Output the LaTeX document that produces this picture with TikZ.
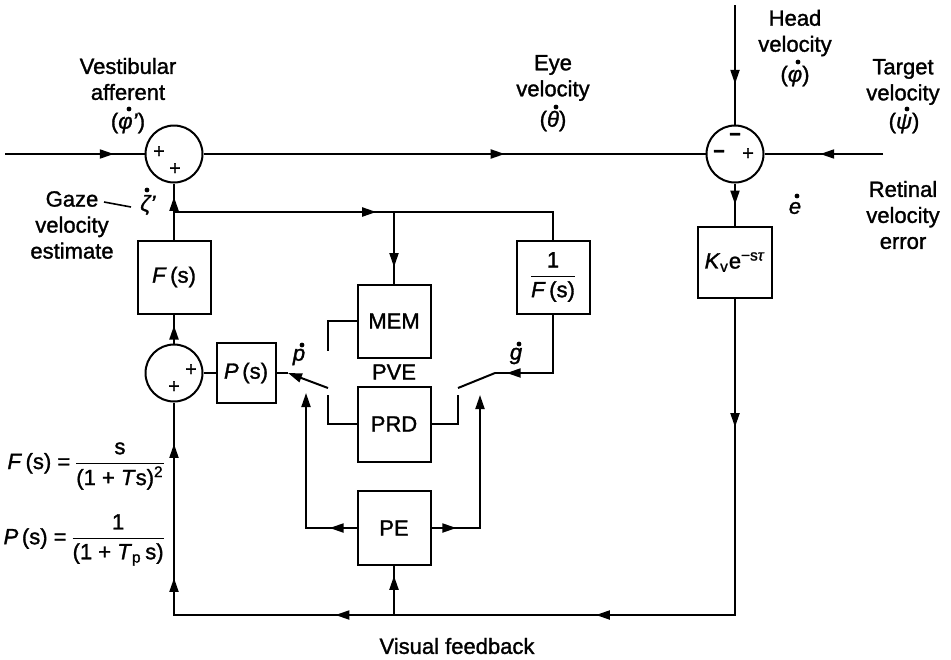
\documentclass[tikz,border=0pt]{standalone}
\usepackage{fontspec}
\setmainfont{Liberation Sans}[FakeBold=1.4]
\usetikzlibrary{arrows.meta,decorations.markings}
\newcommand\fr[2]{$\nulldelimiterspace=0pt\displaystyle\frac{\mbox{#1}}{\mbox{#2}}$}
\tikzset{
  ln/.style={line width=1pt},
  blk/.style={draw, line width=1pt, minimum width=36.5pt, minimum height=36.5pt, inner sep=0pt, font=\fontsize{11}{13}\selectfont},
  sumc/.style={draw, circle, line width=1pt, minimum size=28.5pt, inner sep=0pt},
  lbl/.style={align=center, inner sep=0pt, font=\fontsize{11}{13}\selectfont},
  sgn/.style={inner sep=0pt, font=\fontsize{10}{12}\selectfont},
  arr/.style={postaction={decorate,decoration={markings,mark=at position #1 with {\arrow{Triangle[length=7pt,width=4.5pt]}}}}},
  tip/.style={-{Triangle[length=7pt,width=4.5pt]}},
  dotacc/.style={fill=black}
}
\begin{document}
\begin{tikzpicture}[x=0.5pt,y=-0.5pt]
\useasboundingbox (0,0) rectangle (951,659);
% summing junctions
\node[sumc] (sumL) at (174,154) {};
\node[sumc] (sumR) at (735,154) {};
\node[sumc] (sumB) at (174,373) {};
\node[sgn] at (159,152) {+};
\node[sgn] at (175,169) {+};
\node[sgn] at (191,370) {+};
\node[sgn] at (174,387) {+};
\node[sgn] at (735,137) {\textbf{−}};
\node[sgn] at (719,154) {\textbf{−}};
\node[sgn] at (748,154) {+};
% blocks
\node[blk] (F) at (174,277) {\textit{F}\,(s)};
\node[blk] (invF) at (553,277) {\fr{1}{\textit{F}\,(s)}};
\node[blk, minimum width=37pt, minimum height=35.5pt] (Kv) at (735,262) {\textit{K}\textsubscript{v}e\textsuperscript{−s\textit{τ}}};
\node[blk] (MEM) at (394,321) {MEM};
\node[blk, minimum height=37.5pt] (PRD) at (394,424) {PRD};
\node[blk, minimum height=37pt] (PE) at (394,528) {PE};
\node[blk, minimum width=29.5pt, minimum height=30pt] (P) at (246,373) {\textit{P}\,(s)};
% coordinates
\coordinate (inL) at (5,154);
\coordinate (head) at (735,5);
\coordinate (tgt) at (883,154);
\coordinate (cBR) at (735,615);
\coordinate (cBL) at (174,615);
\coordinate (fbPE) at (394,615);
\coordinate (br0) at (174,212);
\coordinate (br1) at (553,212);
\coordinate (brM) at (394,212);
\coordinate (gR1) at (553,373);
\coordinate (swR1) at (495,373);
\coordinate (swR2) at (458,388);
\coordinate (cR) at (458,424);
\coordinate (cRt) at (458,395);
\coordinate (swL1) at (328,388);
\coordinate (swL2) at (288,373);
\coordinate (cL) at (328,424);
\coordinate (cLt) at (328,395);
\coordinate (mL) at (328,321);
\coordinate (mLb) at (328,351);
\coordinate (peL) at (306,528);
\coordinate (peLt) at (306,393);
\coordinate (peR) at (480,528);
\coordinate (peRt) at (480,395);
\coordinate (gz0) at (104,202);
\coordinate (gz1) at (131,207);
% connectors
\draw[ln, arr=0.78] (inL) -- (sumL);
\draw[ln, arr=0.6] (sumL) -- (sumR);
\draw[ln, arr=0.66] (head) -- (sumR);
\draw[ln, arr=0.53] (tgt) -- (sumR);
\draw[ln, arr=0.5] (sumR) -- (Kv);
\draw[ln, arr=0.118, arr=0.418, arr=0.657, arr=0.839, arr=0.962] (Kv.south) -- (cBR) -- (cBL) -- (sumB.south);
\draw[ln, arr=0.8] (fbPE) -- (PE.south);
\draw[ln, arr=0.62] (sumB) -- (F);
\draw[ln, arr=0.76] (F) -- (sumL);
\draw[ln, arr=0.4975] (br0) -- (br1) -- (invF.north);
\draw[ln, arr=0.77] (brM) -- (MEM.north);
\draw[ln, arr=0.9] (invF.south) -- (gR1) -- (swR1);
\draw[ln] (swR1) -- (swR2);
\draw[ln] (PRD.east) -- (cR) -- (cRt);
\draw[ln] (PRD.west) -- (cL) -- (cLt);
\draw[ln] (MEM.west |- mL) -- (mL) -- (mLb);
\draw[ln, tip] (swL1) -- (swL2);
\draw[ln] (swL2) -- (P.east);
\draw[ln] (P.west) -- (sumB.east);
\draw[ln, tip, arr=0.145] (PE.west) -- (peL) -- (peLt);
\draw[ln, tip, arr=0.137] (PE.east) -- (peR) -- (peRt);
\draw[line width=0.8pt] (gz0) -- (gz1);
% labels
\node[lbl] (vest) at (128,79) {Vestibular\\afferent};
\node[lbl] (vestS) at (128,123) {(\textit{φ'})};
\node[lbl] (eye) at (553,78) {Eye\\velocity};
\node[lbl] (eyeS) at (553,121) {(\textit{θ})};
\node[lbl] (headl) at (795,33) {Head\\velocity};
\node[lbl] (headS) at (795,76) {(\textit{φ})};
\node[lbl] (tgtl) at (903,82) {Target\\velocity};
\node[lbl] (tgtS) at (904,123) {(\textit{ψ})};
\node[lbl] (ret) at (903,215) {Retinal\\velocity\\error};
\node[lbl] (edot) at (795,208) {\textit{e}};
\node[lbl] (gaze) at (72,225) {Gaze\\velocity\\estimate};
\node[lbl] (zeta) at (148,205) {\textit{ζ'}};
\node[lbl] (pdot) at (299,357) {\textit{p}};
\node[lbl] (gdot) at (516,356) {\textit{g}};
\node[lbl] (pve) at (394,372) {PVE};
\node[lbl, anchor=east] (fF) at (164,466) {\textit{F}\,(s) = \fr{s}{(1 + \textit{T}s)\textsuperscript{2}}};
\node[lbl, anchor=east] (fP) at (164,540) {\textit{P}\,(s) = \fr{1}{(1 + \textit{T}\textsubscript{p}\,s)}};
\node[lbl] (vis) at (457,646) {Visual feedback};
% dot accents
\fill[dotacc] ([shift={(1,-14)}]vestS.center) circle[radius=1.2pt];
\fill[dotacc] ([shift={(3,-14)}]eyeS.center) circle[radius=1.2pt];
\fill[dotacc] ([shift={(3,-14)}]headS.center) circle[radius=1.2pt];
\fill[dotacc] ([shift={(3,-14)}]tgtS.center) circle[radius=1.2pt];
\fill[dotacc] ([shift={(2,-12)}]edot.center) circle[radius=1.2pt];
\fill[dotacc] ([shift={(-1,-15)}]zeta.center) circle[radius=1.2pt];
\fill[dotacc] ([shift={(3,-12)}]pdot.center) circle[radius=1.2pt];
\fill[dotacc] ([shift={(3,-12)}]gdot.center) circle[radius=1.2pt];
\end{tikzpicture}
\end{document}
